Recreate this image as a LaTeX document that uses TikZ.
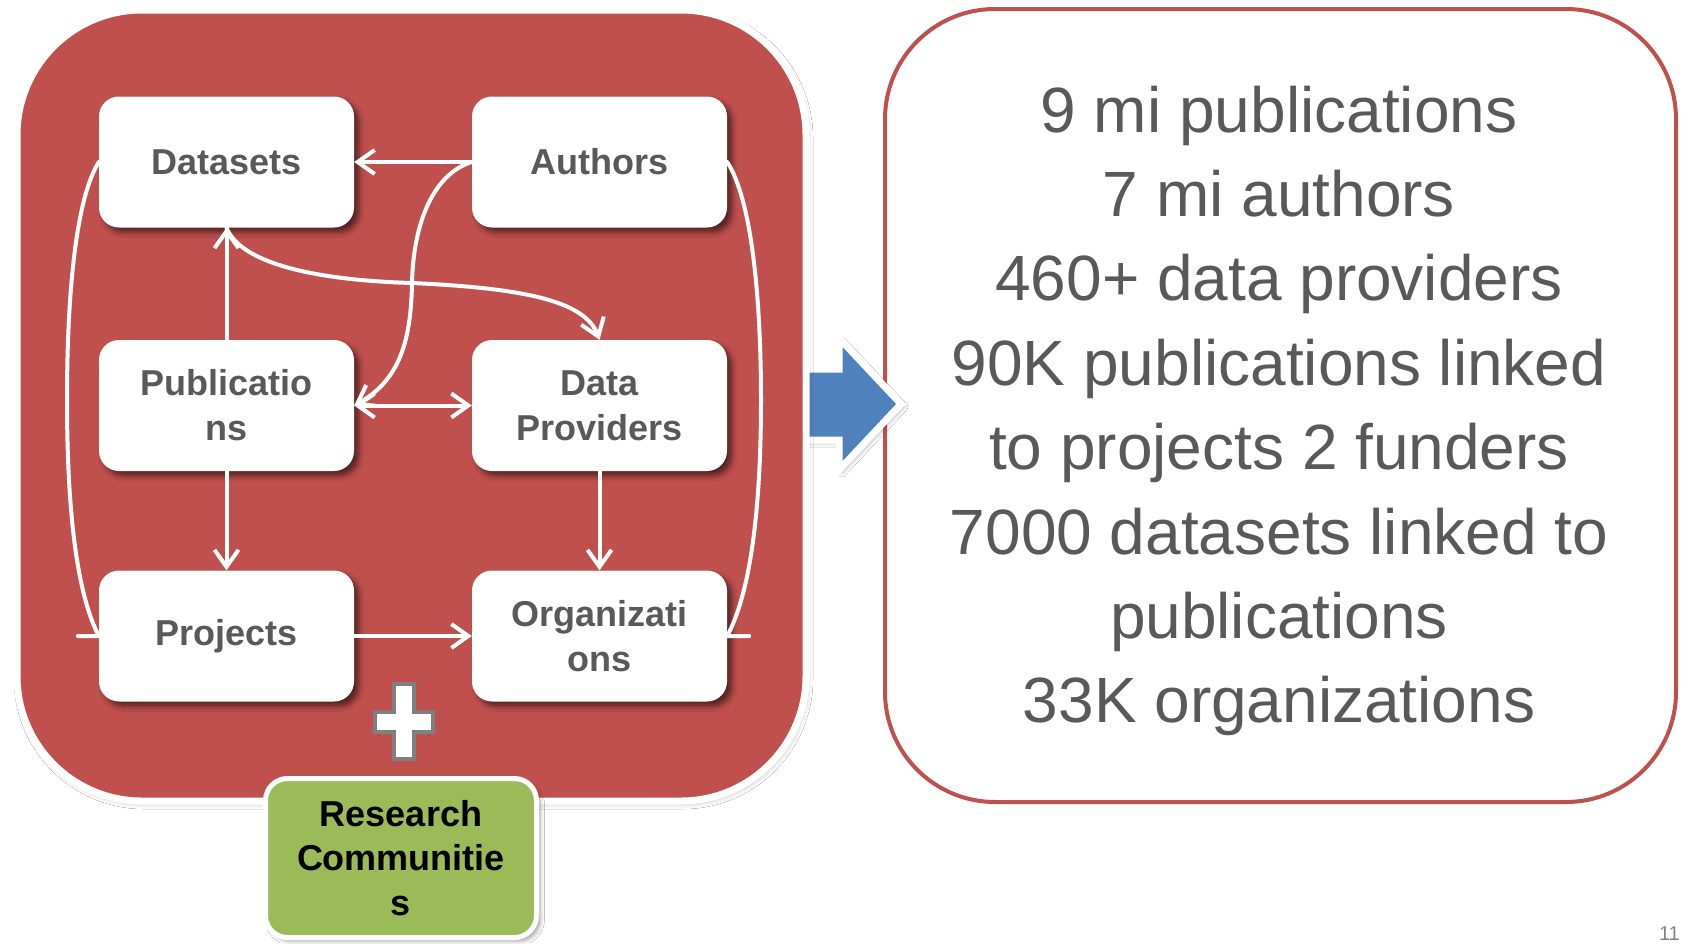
\documentclass[tikz,border=0pt]{standalone}
\usepackage{fontspec}
\setmainfont{Liberation Sans}
\usetikzlibrary{arrows.meta,shadows.blur}
\definecolor{panelred}{HTML}{C0504D}
\definecolor{boxgray}{HTML}{595959}
\definecolor{commgreen}{HTML}{9BBB59}
\definecolor{arrowblue}{HTML}{4F81BD}
\definecolor{plusgray}{HTML}{7F7F7F}
\begin{document}
\begin{tikzpicture}[x=1pt,y=-1pt,
  entity/.style={rectangle, rounded corners=20pt, fill=white, minimum width=255pt, minimum height=131pt,
    inner sep=0pt, align=center, font=\fontsize{36}{45}\selectfont\bfseries, text=boxgray,
    blur shadow={shadow xshift=5pt, shadow yshift=-5pt, shadow blur radius=5pt, shadow opacity=55}},
  commbox/.style={rectangle, rounded corners=22pt, fill=commgreen, draw=white, line width=5pt,
    minimum width=271pt, minimum height=159pt, inner sep=0pt, align=center,
    font=\fontsize{36}{44.5}\selectfont\bfseries, text=black,
    blur shadow={shadow xshift=4pt, shadow yshift=-4pt, shadow blur radius=4pt, shadow opacity=35}},
  link/.style={draw=white, line width=4pt, line cap=round},
  tip/.style={-{Straight Barb[length=17pt,width=24pt]}},
  bitip/.style={{Straight Barb[length=17pt,width=24pt]}-{Straight Barb[length=17pt,width=24pt]}}
]
\useasboundingbox (0,0) rectangle (1681,943);
\fill[white] (0,0) rectangle (1681,943);

% right panel
\draw[draw=panelred, line width=4pt, fill=white, rounded corners=110pt] (885,9) rectangle (1676,802);
\node[align=center, text=boxgray, font=\fontsize{64}{84.4}\selectfont, inner sep=0pt] (stats) at (1279,411)
  {9 mi publications\\7 mi authors\\460+ data providers\\90K publications linked\\to projects 2 funders\\7000 datasets linked to\\publications\\33K organizations};

% blue arrow
\filldraw[fill=arrowblue, draw=white, line width=7pt, line join=miter,
  blur shadow={shadow xshift=3pt, shadow yshift=-3pt, shadow blur radius=4pt, shadow opacity=30}]
  (800,369) -- (839,369) -- (839,338) -- (901,404) -- (839,470) -- (839,440) -- (800,440) -- cycle;

% left panel
\draw[fill=panelred, draw=white, line width=7pt, rounded corners=125pt,
  blur shadow={shadow xshift=2pt, shadow yshift=-3pt, shadow blur radius=5pt, shadow opacity=25}]
  (17,10) rectangle (806,801);

% boxes
\node[entity] (datasets) at (226.5,162) {Datasets};
\node[entity] (authors) at (599.5,162) {Authors};
\node[entity] (pubs) at (226.5,405.5) {Publicatio\\ns};
\node[entity] (dp) at (599.5,405.5) {Data\\Providers};
\node[entity] (proj) at (226.5,636) {Projects};
\node[entity] (org) at (599.5,636) {Organizati\\ons};

% connectors
\draw[link, tip] (authors.west) -- (datasets.east);
\draw[link, tip] (authors.west) .. controls (430,175) and (413,230) .. (412,283)
  .. controls (411,340) and (400,380) .. (pubs.east);
\draw[link, bitip] (pubs.east) -- (dp.west);
\draw[link, tip] (pubs.north) -- (datasets.south);
\draw[link, tip] (datasets.south) .. controls (240,262) and (310,280) .. (412,283)
  .. controls (520,288) and (585,300) .. (dp.north);
\draw[link, tip] (pubs.south) -- (proj.north);
\draw[link, tip] (dp.south) -- (org.north);
\draw[link, tip] (proj.east) -- (org.west);
\draw[link] (datasets.west) .. controls (75,200) and (67,300) .. (67,400)
  .. controls (67,500) and (75,590) .. (proj.west) -- ++(-21,0);
\draw[link] (authors.east) .. controls (752,200) and (761,300) .. (761,400)
  .. controls (761,500) and (752,590) .. (org.east) -- ++(22,0);

% plus sign
\filldraw[fill=white, draw=plusgray, line width=4pt, line join=miter]
  (394,684) -- (414,684) -- (414,712) -- (433,712) -- (433,732) -- (414,732) -- (414,759)
  -- (394,759) -- (394,732) -- (375,732) -- (375,712) -- (394,712) -- cycle;

% research communities
\node[commbox] (comm) at (401,858) {Research\\Communitie\\s};

% page number
\node[anchor=south east, inner sep=0pt, text=boxgray!75, font=\fontsize{20}{20}\selectfont] (pg) at (1680,941) {11};
\end{tikzpicture}
\end{document}
